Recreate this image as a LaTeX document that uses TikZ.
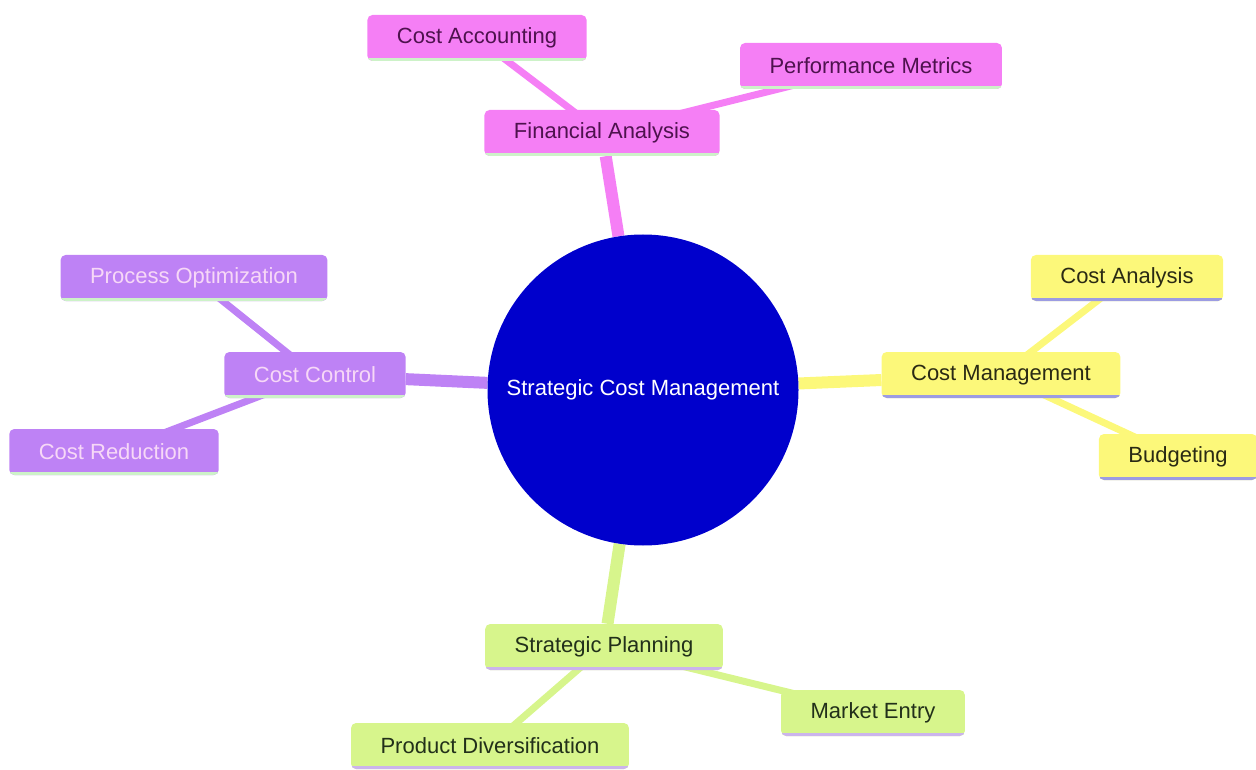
\documentclass[tikz,border=0pt]{standalone}
\usepackage{fontspec}
\setmainfont{Liberation Sans}
\usepackage{tikz}
\usetikzlibrary{backgrounds}

\definecolor{pinkfill}{HTML}{F57FF5}
\definecolor{pinktext}{HTML}{4E124E}
\definecolor{purplefill}{HTML}{BE82F5}
\definecolor{purpletext}{HTML}{F7D8F7}
\definecolor{yellowfill}{HTML}{FCF87A}
\definecolor{yellowtext}{HTML}{2A2A14}
\definecolor{greenfill}{HTML}{D7F58C}
\definecolor{greentext}{HTML}{22301A}
\definecolor{rootblue}{HTML}{0000CC}
\definecolor{lgreenline}{HTML}{CDF2C8}
\definecolor{blueline}{HTML}{9C9CE2}
\definecolor{lavline}{HTML}{CBB4EC}

\begin{document}
\begin{tikzpicture}[x=1pt, y=-1pt,
    every node/.style={font=\fontsize{22}{26}\selectfont},
    mm/.style args={#1/#2/#3}{rectangle, rounded corners=5pt, minimum height=46pt,
        inner xsep=29.5pt, inner ysep=0pt, fill=#1, text=#2,
        path picture={\draw[line width=6pt, #3] (path picture bounding box.south west) -- (path picture bounding box.south east);}},
    pk/.style={mm=pinkfill/pinktext/lgreenline},
    pu/.style={mm=purplefill/purpletext/lgreenline},
    ye/.style={mm=yellowfill/yellowtext/blueline},
    gr/.style={mm=greenfill/greentext/lavline},
    trunk/.style={line width=12pt, #1},
    twig/.style={line width=7pt, #1}
  ]
  \useasboundingbox (0,0) rectangle (1256,770);

  \node[circle, fill=rootblue, text=white, minimum size=311pt, inner sep=0pt] (root) at (643,390) {Strategic Cost Management};

  \node[pk] (fin) at (602,133) {Financial Analysis};
  \node[pk] (acc) at (477,38) {Cost Accounting};
  \node[pk] (perf) at (871,66) {Performance Metrics};

  \node[pu] (ctrl) at (315,375) {Cost Control};
  \node[pu] (proc) at (194,278) {Process Optimization};
  \node[pu] (red) at (114,452) {Cost Reduction};

  \node[ye] (mgmt) at (1001,375) {Cost Management};
  \node[ye] (ana) at (1127,278) {Cost Analysis};
  \node[ye] (bud) at (1178,457) {Budgeting};

  \node[gr] (plan) at (604,647) {Strategic Planning};
  \node[gr] (mkt) at (873,713) {Market Entry};
  \node[gr] (div) at (490,746) {Product Diversification};

  \begin{scope}[on background layer]
    \draw[trunk=pinkfill] (root) -- (fin);
    \draw[trunk=purplefill] (root) -- (ctrl);
    \draw[trunk=yellowfill] (root) -- (mgmt);
    \draw[trunk=greenfill] (root) -- (plan);
    \draw[twig=pinkfill] (fin.center) -- (acc.center);
    \draw[twig=pinkfill] (fin.center) -- (perf.center);
    \draw[twig=purplefill] (ctrl.center) -- (proc.center);
    \draw[twig=purplefill] (ctrl.center) -- (red.center);
    \draw[twig=yellowfill] (mgmt.center) -- (ana.center);
    \draw[twig=yellowfill] (mgmt.center) -- (bud.center);
    \draw[twig=greenfill] (plan.center) -- (mkt.center);
    \draw[twig=greenfill] (plan.center) -- (div.center);
  \end{scope}
\end{tikzpicture}
\end{document}
